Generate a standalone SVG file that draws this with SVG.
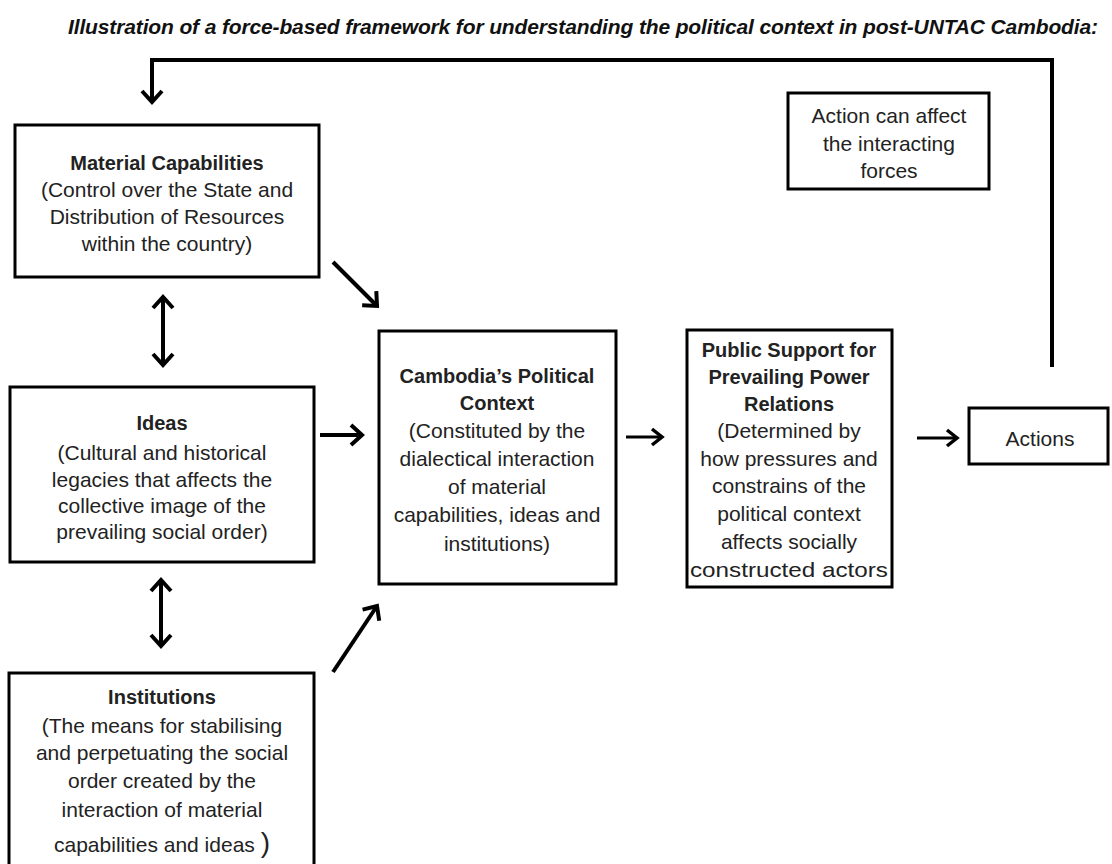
<svg xmlns="http://www.w3.org/2000/svg" width="1112" height="864" viewBox="0 0 1112 864">
<style>
.box{fill:#fff;stroke:#000;stroke-width:3}
.t{font-family:"Liberation Sans",Arial,sans-serif;font-size:21px;fill:#222;text-anchor:middle}
.b{font-weight:bold;font-size:20px}
.c{fill:none;stroke:#000;stroke-width:4}
.thin{stroke-width:3}
</style>
<defs>
<marker id="ah" viewBox="-16 -12 20 24" refX="0" refY="0" markerWidth="20" markerHeight="24" markerUnits="userSpaceOnUse" orient="auto-start-reverse">
<path d="M-11,-10 L0,0 L-11,10" fill="none" stroke="#000" stroke-width="4"/>
</marker>
<marker id="ahs" viewBox="-16 -12 20 24" refX="0" refY="0" markerWidth="20" markerHeight="24" markerUnits="userSpaceOnUse" orient="auto">
<path d="M-10,-8 L0,0 L-10,8" fill="none" stroke="#000" stroke-width="3.5"/>
</marker>
</defs>
<rect width="1112" height="864" fill="#fff"/>
<text x="583" y="34" font-family="'Liberation Sans',Arial,sans-serif" font-size="21" font-weight="bold" font-style="italic" text-anchor="middle" textLength="1030" fill="#111">Illustration of a force-based framework for understanding the political context in post-UNTAC Cambodia:</text>

<g id="connectors">
<path class="c" d="M1052,367 V60 H152 V102" marker-end="url(#ah)"/>
<line class="c" x1="163" y1="297" x2="163" y2="365" marker-start="url(#ah)" marker-end="url(#ah)"/>
<line class="c" x1="161" y1="580" x2="161" y2="646" marker-start="url(#ah)" marker-end="url(#ah)"/>
<line class="c" x1="333" y1="262" x2="377" y2="306" marker-end="url(#ah)"/>
<line class="c" x1="320" y1="435" x2="362" y2="435" marker-end="url(#ah)"/>
<line class="c" x1="333" y1="672" x2="377" y2="606" marker-end="url(#ah)"/>
<line class="c thin" x1="626" y1="437" x2="662" y2="437" marker-end="url(#ahs)"/>
<line class="c thin" x1="917" y1="438" x2="957" y2="438" marker-end="url(#ahs)"/>
</g>

<g id="material">
<rect class="box" x="15" y="125" width="304" height="152"/>
<text class="t b" x="167" y="170">Material Capabilities</text>
<text class="t" x="167" y="197">(Control over the State and</text>
<text class="t" x="167" y="224">Distribution of Resources</text>
<text class="t" x="167" y="251">within the country)</text>
</g>

<g id="ideas">
<rect class="box" x="10" y="387" width="304" height="175"/>
<text class="t b" x="162" y="430">Ideas</text>
<text class="t" x="162" y="460">(Cultural and historical</text>
<text class="t" x="162" y="487">legacies that affects the</text>
<text class="t" x="162" y="513">collective image of the</text>
<text class="t" x="162" y="539">prevailing social order)</text>
</g>

<g id="institutions">
<rect class="box" x="9" y="673" width="305" height="250"/>
<text class="t b" x="162" y="704">Institutions</text>
<text class="t" x="162" y="733">(The means for stabilising</text>
<text class="t" x="162" y="760">and perpetuating the social</text>
<text class="t" x="162" y="788">order created by the</text>
<text class="t" x="162" y="817">interaction of material</text>
<text class="t" x="162" y="852">capabilities and ideas <tspan font-size="28">)</tspan></text>
</g>

<g id="context">
<rect class="box" x="379" y="331" width="237" height="253"/>
<text class="t b" x="497" y="383">Cambodia’s Political</text>
<text class="t b" x="497" y="410">Context</text>
<text class="t" x="497" y="438">(Constituted by the</text>
<text class="t" x="497" y="466">dialectical interaction</text>
<text class="t" x="497" y="494">of material</text>
<text class="t" x="497" y="522">capabilities, ideas and</text>
<text class="t" x="497" y="551">institutions)</text>
</g>

<g id="public">
<rect class="box" x="687" y="330" width="205" height="257"/>
<text class="t b" x="789" y="357">Public Support for</text>
<text class="t b" x="789" y="384">Prevailing Power</text>
<text class="t b" x="789" y="411">Relations</text>
<text class="t" x="789" y="438">(Determined by</text>
<text class="t" x="789" y="466">how pressures and</text>
<text class="t" x="789" y="493">constrains of the</text>
<text class="t" x="789" y="521">political context</text>
<text class="t" x="789" y="549">affects socially</text>
<text class="t" x="789" y="577" font-size="22" textLength="198" lengthAdjust="spacingAndGlyphs">constructed actors</text>
</g>

<g id="actions">
<rect class="box" x="969" y="408" width="139" height="56"/>
<text class="t" x="1040" y="446">Actions</text>
</g>

<g id="feedback-note">
<rect class="box" x="788" y="93" width="201" height="96"/>
<text class="t" x="889" y="123">Action can affect</text>
<text class="t" x="889" y="151">the interacting</text>
<text class="t" x="889" y="178">forces</text>
</g>
</svg>
